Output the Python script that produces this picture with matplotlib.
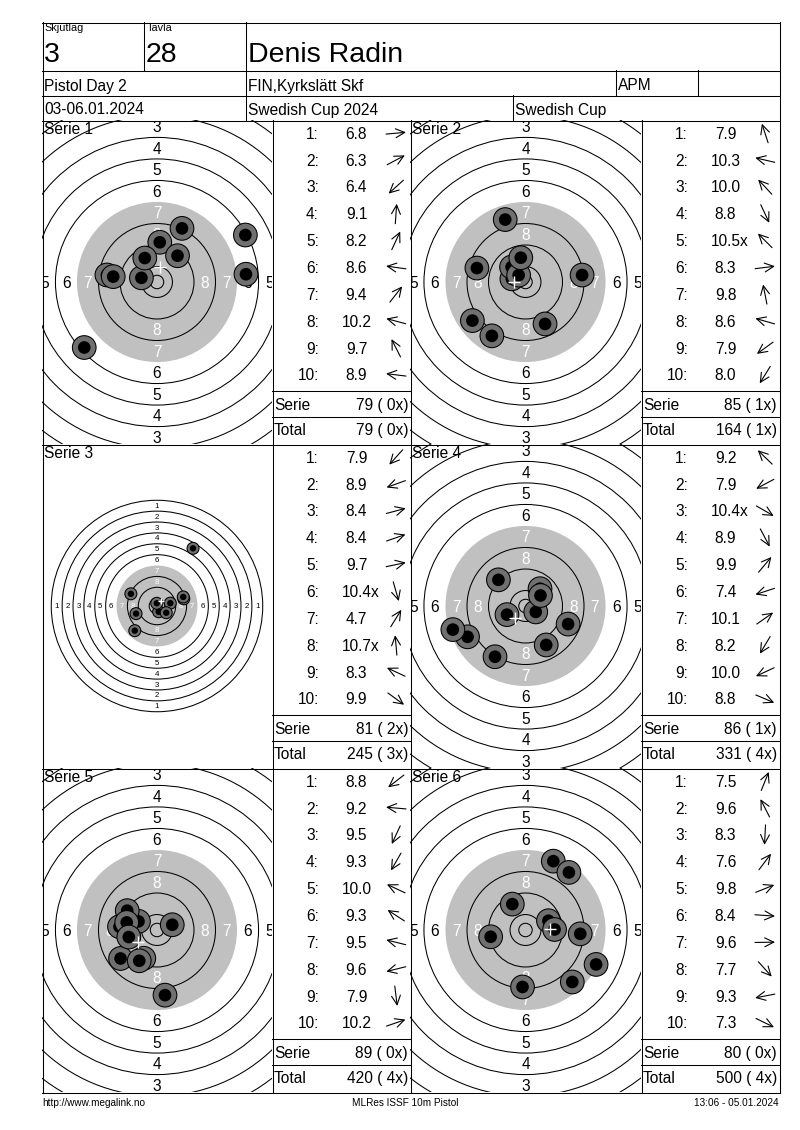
"""
Shooting score card -- MLRes printout of a 10m air pistol match (6 series).

Each series block shows the target with the ten hits drawn on it and a small
table with the decimal value of every shot, an arrow pointing in the direction
of the hit, the series sum and the running total.

Hit positions are rebuilt from the decimal score (distance from the centre)
and the direction read off the printed target.
"""

import numpy as np
import matplotlib

matplotlib.use("Agg")  # no display
import matplotlib.pyplot as plt
from matplotlib.patches import Circle, Rectangle
from matplotlib.transforms import Bbox, TransformedBbox

plt.rcParams["font.family"] = ["Liberation Sans", "DejaVu Sans"]

# ---------------------------------------------------------------------- #
# Card data
# ---------------------------------------------------------------------- #
RELAY = "3"
TARGET_NO = "28"
SHOOTER = "Denis Radin"
EVENT = "Pistol Day 2"
CLUB = "FIN,Kyrkslätt Skf"
CLASS_CODE = "APM"
DATES = "03-06.01.2024"
COMPETITION = "Swedish Cup 2024"
CUP_NAME = "Swedish Cup"
FOOTER_LEFT = "http://www.megalink.no"
FOOTER_MID = "MLRes ISSF 10m Pistol"
FOOTER_RIGHT = "13:06 - 05.01.2024"

# decimal value of every shot, one list per series
SCORES = [
    [6.8, 6.3, 6.4, 9.1, 8.2, 8.6, 9.4, 10.2, 9.7, 8.9],
    [7.9, 10.3, 10.0, 8.8, 10.5, 8.3, 9.8, 8.6, 7.9, 8.0],
    [7.9, 8.9, 8.4, 8.4, 9.7, 10.4, 4.7, 10.7, 8.3, 9.9],
    [9.2, 7.9, 10.4, 8.9, 9.9, 7.4, 10.1, 8.2, 10.0, 8.8],
    [8.8, 9.2, 9.5, 9.3, 10.0, 9.3, 9.5, 9.6, 7.9, 10.2],
    [7.5, 9.6, 8.3, 7.6, 9.8, 8.4, 9.6, 7.7, 9.3, 7.3],
]
# direction of each hit seen from the centre (degrees, ccw from 3 o'clock)
ANGLES = [
    [5, 28, 222, 86, 65, 172, 52, 165, 117, 173],
    [108, 167, 133, 295, 135, 7, 101, 164, 216, 238],
    [228, 200, 15, 19, 12, 286, 58, 95, 155, 324],
    [136, 208, 330, 298, 50, 198, 35, 239, 205, 337],
    [218, 175, 245, 240, 155, 147, 166, 194, 277, 19],
    [68, 117, 267, 53, 22, 356, 1, 312, 191, 334],
]
# shot numbers (1-based) counted as inner ten
INNER_TENS = [[], [5], [6, 8], [3], [], []]

# ---------------------------------------------------------------------- #
# Layout (pixels on an 800 x 1130 page) and target geometry (mm)
# ---------------------------------------------------------------------- #
PAGE_W, PAGE_H = 800, 1130
GRID_X = [42, 272, 410, 641, 779]
GRID_Y = [120, 444, 768, 1092]

RING_RADII = {ring: 5.75 + 8.0 * (10 - ring) for ring in range(1, 11)}
INNER_TEN_R = 2.5
SHOT_R, SHOT_CORE_R = 4.4, 2.35
NEAR_SCALE, FAR_SCALE = 2.69, 1.36  # px per mm

BLACK_AREA = "#c0c0c0"
SHOT_GRAY = "#707070"
LW = 0.75
FS = 11.2


def hit_distance(scores):
    """Distance of the hit centre from the target centre, in mm."""
    return 8.0 * (10.95 - np.asarray(scores, dtype=float))


def hline(ax, x0, x1, y):
    ax.plot([x0, x1], [y + 0.5, y + 0.5], color="black", lw=LW, zorder=20)


def vline(ax, x, y0, y1):
    ax.plot([x + 0.5, x + 0.5], [y0, y1 + 1], color="black", lw=LW, zorder=20)


def draw_header(ax):
    left, right = GRID_X[0], GRID_X[-1]
    for y in (22, 70, 95):
        hline(ax, left, right, y)
    vline(ax, left, 22, GRID_Y[-1])
    vline(ax, right, 22, GRID_Y[-1])
    vline(ax, 143, 22, 70)
    vline(ax, 245, 22, 120)
    vline(ax, 615, 70, 95)
    vline(ax, 697, 70, 95)
    vline(ax, 512, 95, 120)

    kw = dict(ha="left", va="baseline")
    ax.text(44, 31, "Skjutlag", fontsize=7.8, **kw)
    ax.text(147, 31, "Tavla", fontsize=7.8, **kw)
    ax.text(44, 62, RELAY, fontsize=20.5, **kw)
    ax.text(146, 62, TARGET_NO, fontsize=20.5, **kw)
    ax.text(248, 62, SHOOTER, fontsize=20.5, **kw)
    ax.text(44, 90.5, EVENT, fontsize=FS, **kw)
    ax.text(248, 90.5, CLUB, fontsize=FS, **kw)
    ax.text(618, 90.5, CLASS_CODE, fontsize=FS, **kw)
    ax.text(44, 114.5, DATES, fontsize=FS, **kw)
    ax.text(248, 114.5, COMPETITION, fontsize=FS, **kw)
    ax.text(515, 114.5, CUP_NAME, fontsize=FS, **kw)

    ax.text(42, 1106, FOOTER_LEFT, fontsize=7.2, ha="left", va="baseline")
    ax.text(405, 1106, FOOTER_MID, fontsize=7.2, ha="center", va="baseline")
    ax.text(779, 1106, FOOTER_RIGHT, fontsize=7.2, ha="right", va="baseline")


def draw_target(ax, box, number, scores, angles):
    """Rings, ring numbers, hits and mean point of impact, clipped to the box."""
    x0, y0, x1, y1 = box
    cx, cy = (x0 + x1) / 2, (y0 + y1) / 2
    dist = hit_distance(scores)
    # zoom out when a hit would fall outside the close-up view
    near_limit = (x1 - x0) / 2 / NEAR_SCALE
    scale = NEAR_SCALE if dist.max() + SHOT_R < near_limit else FAR_SCALE
    clip = Rectangle((x0, y0), x1 - x0, y1 - y0, transform=ax.transData)
    # text is only clipped by a box, not by a path
    clip_box = TransformedBbox(Bbox([[x0 + 1, y0 + 1], [x1, y1]]), ax.transData)

    def add(patch):
        ax.add_patch(patch)
        patch.set_clip_path(clip)

    add(Circle((cx, cy), RING_RADII[7] * scale, fc=BLACK_AREA, ec="none", zorder=2))
    for ring, radius in RING_RADII.items():
        if ring == 7:  # edge of the black area, no line
            continue
        add(Circle((cx, cy), radius * scale, fill=False, ec="black", lw=LW, zorder=3))
    add(Circle((cx, cy), INNER_TEN_R * scale, fill=False, ec="black", lw=LW, zorder=3))

    label_size = FS * scale / NEAR_SCALE
    for ring in range(1, 9):
        r = (RING_RADII[ring] - 4.0) * scale
        colour = "white" if ring >= 7 else "black"
        for ux, uy in ((0, -1), (0, 1), (-1, 0), (1, 0)):
            lx, ly = cx + ux * r, cy + uy * r
            if not (x0 < lx < x1 and y0 < ly < y1):
                continue  # ring number lies outside the visible part
            t = ax.text(lx, ly + 0.1 * label_size, str(ring),
                        fontsize=label_size, color=colour,
                        ha="center", va="center", zorder=4, clip_on=True)
            t.set_clip_box(clip_box)

    rad = np.deg2rad(angles)
    sx = cx + dist * scale * np.cos(rad)
    sy = cy - dist * scale * np.sin(rad)
    for k, (x, y) in enumerate(zip(sx, sy)):
        z = 5 + 0.02 * k
        add(Circle((x, y), SHOT_R * scale, fc=SHOT_GRAY, ec="black", lw=LW, zorder=z))
        add(Circle((x, y), SHOT_CORE_R * scale, fc="black", ec="none", zorder=z + 0.01))

    (cross,) = ax.plot(sx.mean(), sy.mean(), marker="+", color="white",
                       ms=9 * scale / NEAR_SCALE, mew=1.0, zorder=6)
    cross.set_clip_path(clip)

    ax.text(x0 + 2, y0 + 14, f"Serie {number}", fontsize=FS,
            ha="left", va="baseline", zorder=7)


def draw_table(ax, box, scores, angles, inner, serie_sum, serie_x, total, total_x):
    """Shot list with direction arrows, series sum and running total."""
    x0, y0, x1, y1 = box
    for i, (score, angle) in enumerate(zip(scores, angles)):
        base = y0 + 18.7 + 26.85 * i
        ax.text(x0 + 47, base, f"{i + 1}:", fontsize=FS, ha="right", va="baseline")
        mark = "x" if (i + 1) in inner else ""
        ax.text(x0 + 84.5 + (3.8 if mark else 0.0), base, f"{score:.1f}{mark}",
                fontsize=FS, ha="center", va="baseline")

        a = np.deg2rad(angle)
        ux, uy = np.cos(a), -np.sin(a)
        ax_c, ay_c = x0 + 124, base - 5.5
        ax.annotate("", xy=(ax_c + 10 * ux, ay_c + 10 * uy),
                    xytext=(ax_c - 10 * ux, ay_c - 10 * uy),
                    arrowprops=dict(arrowstyle="->,head_length=0.65,head_width=0.32",
                                    lw=0.8, color="black", shrinkA=0, shrinkB=0,
                                    mutation_scale=10))

    hline(ax, x0, x1, y0 + 270)
    hline(ax, x0, x1, y0 + 296)
    ax.text(x0 + 2, y0 + 289.7, "Serie", fontsize=FS, ha="left", va="baseline")
    ax.text(x1 - 2, y0 + 289.7, f"{serie_sum} ({serie_x:2d}x)", fontsize=FS,
            ha="right", va="baseline")
    ax.text(x0 + 2, y0 + 315.3, "Total", fontsize=FS, ha="left", va="baseline")
    ax.text(x1 - 2, y0 + 315.3, f"{total} ({total_x:2d}x)", fontsize=FS,
            ha="right", va="baseline")


def main():
    fig = plt.figure(figsize=(PAGE_W / 100, PAGE_H / 100), dpi=100)
    ax = fig.add_axes([0, 0, 1, 1])
    ax.set_xlim(0, PAGE_W)
    ax.set_ylim(PAGE_H, 0)
    ax.axis("off")

    draw_header(ax)
    for x in GRID_X:
        vline(ax, x, GRID_Y[0], GRID_Y[-1])
    for y in GRID_Y:
        hline(ax, GRID_X[0], GRID_X[-1], y)

    total, total_x = 0, 0
    for idx, (scores, angles, inner) in enumerate(zip(SCORES, ANGLES, INNER_TENS)):
        row, col = divmod(idx, 2)
        ya, yb = GRID_Y[row], GRID_Y[row + 1]
        xa, xm, xb = GRID_X[2 * col], GRID_X[2 * col + 1], GRID_X[2 * col + 2]
        serie_sum = int(sum(int(s) for s in scores))
        serie_x = len(inner)
        total += serie_sum
        total_x += serie_x
        draw_target(ax, (xa, ya, xm, yb), idx + 1, scores, angles)
        draw_table(ax, (xm, ya, xb, yb), scores, angles, inner,
                   serie_sum, serie_x, total, total_x)

    fig.savefig("out.png", dpi=100, facecolor="white")
    plt.close(fig)


if __name__ == "__main__":
    main()
